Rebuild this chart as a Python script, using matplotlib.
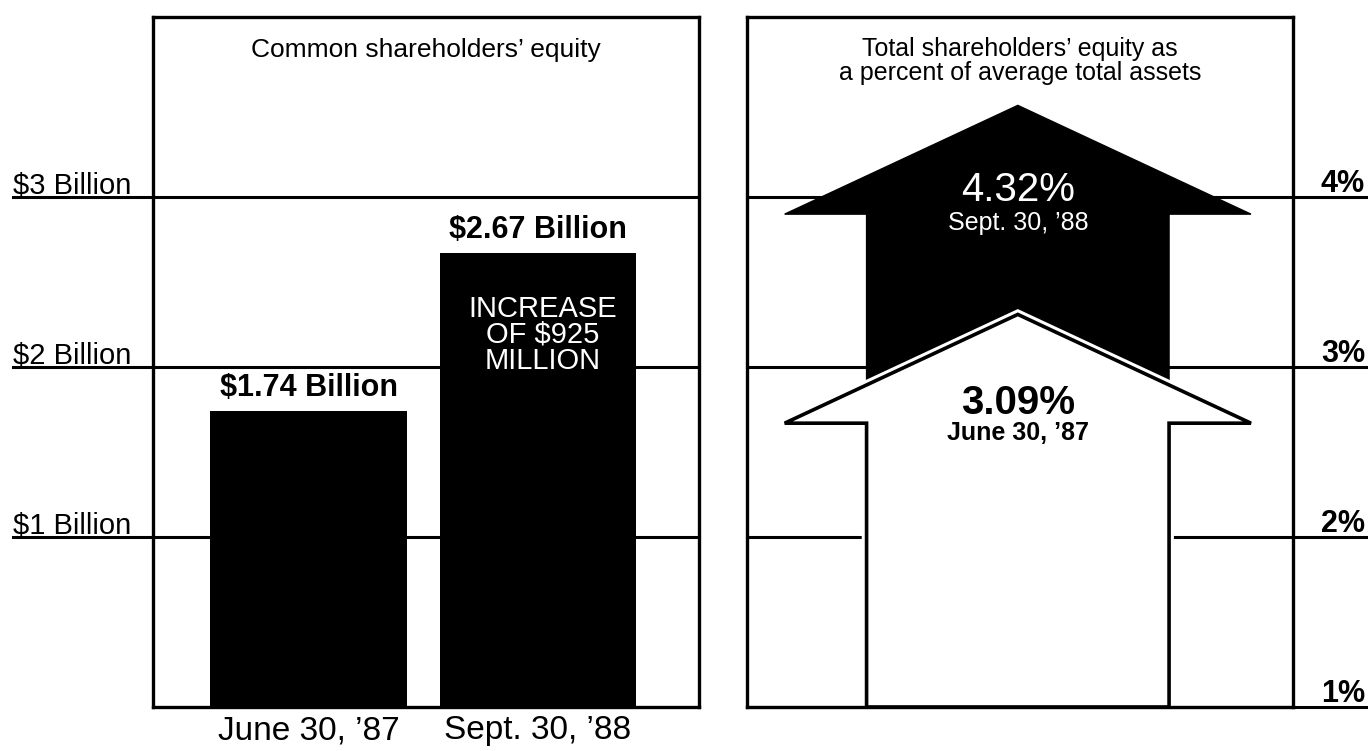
import matplotlib
matplotlib.use("Agg")
from matplotlib import pyplot as plt
from matplotlib.patches import Polygon

# left panel: common shareholders' equity, $ billions
dates = ["June 30, \u201987", "Sept. 30, \u201988"]
equity = [1.74, 2.67]
equity_labels = ["$1.74 Billion", "$2.67 Billion"]
increase_label = "INCREASE\nOF $925\nMILLION"
billion_ticks = [1, 2, 3]
billion_labels = ["$1 Billion", "$2 Billion", "$3 Billion"]

# right panel: total equity as % of average total assets
pct_values = [3.09, 4.32]          # June 30 '87, Sept 30 '88
pct_labels = ["3.09%", "4.32%"]
pct_dates = ["June 30, \u201987", "Sept. 30, \u201988"]
pct_ticks = [1, 2, 3, 4]
pct_tick_labels = ["1%", "2%", "3%", "4%"]

plt.rcParams['font.family'] = ['Liberation Sans', 'DejaVu Sans']

W, H = 1368, 751
fig = plt.figure(figsize=(W / 100, H / 100), dpi=100)
bot, top = 707, 17
ax1 = fig.add_axes([153 / W, 1 - bot / H, (699 - 153) / W, (bot - top) / H])
ax2 = fig.add_axes([747 / W, 1 - bot / H, (1293 - 747) / W, (bot - top) / H])

for ax in (ax1, ax2):
    for s in ax.spines.values():
        s.set_linewidth(2.4)
        s.set_zorder(6)
    ax.set_yticks([])

# ---- left panel
ax1.set_xlim(-0.681, 1.703)
ax1.set_ylim(0, 4.06)
x = [0, 1]
ax1.bar(x, equity, width=0.86, color="black", zorder=2)
ax1.set_xticks(x, dates, fontsize=24)
ax1.tick_params(axis="x", length=0, pad=6)

for v, lab in zip(billion_ticks, billion_labels):
    ax1.axhline(v, xmin=-0.256, xmax=1, color="black", lw=2.2, clip_on=False, zorder=1)
    ax1.text(-0.256, v + 0.02, lab, transform=ax1.get_yaxis_transform(),
             ha="left", va="baseline", fontsize=21)

for xi, v, lab in zip(x, equity, equity_labels):
    ax1.text(xi, v + 0.05, lab, ha="center", va="bottom", fontsize=22,
             fontweight="bold")
ax1.text(x[1] + 0.02, equity[1] - 0.48, increase_label, ha="center", va="center",
         color="white", fontsize=21, linespacing=0.9)

ax1.text(0.5, 0.952, "Common shareholders\u2019 equity", transform=ax1.transAxes,
         ha="center", va="center", fontsize=19)

# ---- right panel
ax2.set_xlim(0, 1)
ax2.set_ylim(1, 5.06)
ax2.set_xticks([])
for v, lab in zip(pct_ticks, pct_tick_labels):
    ax2.axhline(v, xmin=0, xmax=1.137, color="black", lw=2.2, clip_on=False, zorder=1)
    ax2.text(1.132, v + 0.03, lab, transform=ax2.get_yaxis_transform(),
             ha="right", va="baseline", fontsize=22, fontweight="bold")

cx, hw, sw, head = 0.496, 0.427, 0.277, 0.64


def arrow_pts(v):
    apex = v + 0.22
    sh = apex - head
    return [(cx - sw, 1.0), (cx - sw, sh), (cx - hw, sh), (cx, apex),
            (cx + hw, sh), (cx + sw, sh), (cx + sw, 1.0)]


old, new = pct_values
ax2.add_patch(Polygon(arrow_pts(new), closed=True, fc="black", ec="black", lw=1, zorder=3))
ax2.add_patch(Polygon(arrow_pts(old), closed=True, fc="white", ec="white", lw=7, zorder=4))
ax2.add_patch(Polygon(arrow_pts(old), closed=True, fc="none", ec="black", lw=2.6, zorder=5))

ax2.text(cx, new - 0.28, pct_labels[1], ha="center", va="center", color="white",
         fontsize=29, zorder=7)
ax2.text(cx, new - 0.47, pct_dates[1], ha="center", va="center", color="white",
         fontsize=18, zorder=7)
ax2.text(cx, old - 0.30, pct_labels[0], ha="center", va="center", color="black",
         fontsize=29, fontweight="bold", zorder=7)
ax2.text(cx, old - 0.48, pct_dates[0], ha="center", va="center", color="black",
         fontsize=18, fontweight="bold", zorder=7)

ax2.text(0.5, 0.936, "Total shareholders\u2019 equity as\na percent of average total assets",
         transform=ax2.transAxes, ha="center", va="center", fontsize=18,
         linespacing=1.0)

fig.savefig("out.png", dpi=100)
